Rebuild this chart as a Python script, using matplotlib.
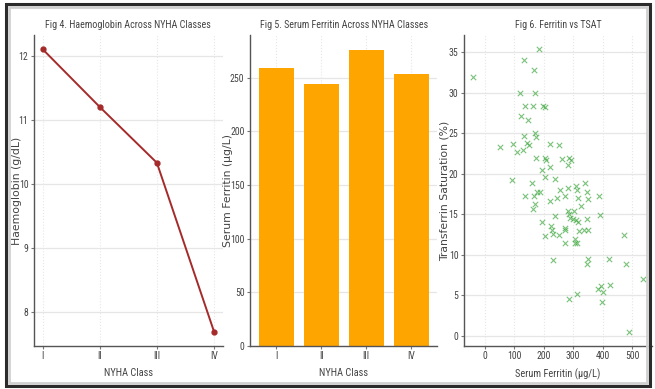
import matplotlib
matplotlib.use("Agg")
import matplotlib.pyplot as plt
from matplotlib.patches import Rectangle
from matplotlib import font_manager

# --- data ---
nyha = ["I", "II", "III", "IV"]
hb_mean = [12.1, 11.2, 10.33, 7.7]
ferritin_mean = [259, 244, 276, 253]

ferritin = [-42, 184, 134, 167, 118, 172, 137, 162, 196, 205, 123, 146, 132, 171, 175,
            50, 97, 109, 128, 142, 149, 223, 252, 175, 204, 208, 261, 287, 294, 284,
            195, 220, 91, 159, 205, 240, 340, 256, 282, 311, 314, 346, 389, 137, 168,
            178, 188, 170, 163, 220, 245, 272, 317, 349, 328, 240, 281, 286, 304, 298,
            310, 347, 391, 193, 203, 224, 229, 231, 252, 272, 274, 272, 306, 314, 307,
            321, 337, 352, 472, 231, 348, 351, 421, 481, 539, 386, 395, 401, 399, 426,
            286, 313, 491, 290, 317]
tsat = [31.9, 35.4, 34.1, 32.8, 30.0, 30.0, 28.4, 28.4, 28.4, 28.3, 27.2, 26.7, 24.7, 25.0, 24.6,
        23.3, 23.7, 22.7, 22.9, 23.8, 23.5, 23.7, 23.5, 22.0, 21.9, 21.7, 21.8, 21.9, 21.7, 21.1,
        20.5, 20.9, 19.2, 18.9, 19.6, 19.4, 18.9, 18.0, 18.3, 18.5, 18.0, 17.7, 17.2, 17.2, 17.2,
        17.7, 17.8, 16.3, 15.7, 16.7, 17.0, 17.2, 17.0, 16.9, 16.0, 14.8, 15.4, 15.0, 15.4, 14.4,
        14.3, 14.4, 14.9, 14.0, 12.3, 13.6, 13.0, 12.6, 12.4, 13.1, 13.3, 11.5, 11.9, 11.4, 11.4,
        12.9, 13.1, 13.0, 12.5, 9.4, 8.9, 9.5, 9.5, 8.9, 7.0, 5.8, 6.1, 5.4, 4.2, 6.3,
        4.5, 5.1, 0.5, 14.6, 14.1]

# narrow regular face for horizontal text (the reference looks squeezed sideways)
fonts = font_manager.fontManager.ttflist
regular = {f.name for f in fonts if f.weight in (400, "normal", "regular") and f.style == "normal"}
prefer = ["Roboto Condensed", "Liberation Sans Narrow", "Archivo Narrow",
          "Barlow Condensed", "Asap Condensed"]
pick = next((n for n in prefer if n in regular), "DejaVu Sans")
NARROW = dict(family=[pick, "DejaVu Sans"], weight="normal")

fig = plt.figure(figsize=(6.55, 3.89), dpi=100)
renderer = fig.canvas.get_renderer()

# title size chosen so "Fig 4..." is ~166 px wide like the reference
probe = fig.text(0, 0, "Fig 4. Haemoglobin Across NYHA Classes", fontsize=10, **NARROW)
TSZ = min(10.5, 10 * 166 / probe.get_window_extent(renderer).width)
probe.remove()
TICK = 7.0


def style(ax, title, xlabel, ylabel, ylab_x):
    for s in ("top", "right"):
        ax.spines[s].set_visible(False)
    for s in ("left", "bottom"):
        ax.spines[s].set_color("#555555")
        ax.spines[s].set_linewidth(1.0)
    ax.set_axisbelow(True)
    ax.grid(axis="y", color="#e6e6e6", lw=0.9)
    ax.grid(axis="x", color="#e6e6e6", lw=0.8, ls=":")
    ax.tick_params(length=2.5, width=0.8, color="#777777", pad=1.5, labelcolor="#444444")
    for lab in ax.get_xticklabels() + ax.get_yticklabels():
        lab.set_fontproperties(font_manager.FontProperties(size=TICK, **NARROW))
    ax.set_title(title, fontsize=TSZ, color="#444444", pad=5, **NARROW)
    ax.set_xlabel(xlabel, fontsize=7.5, color="#444444", labelpad=5, **NARROW)
    ax.set_ylabel(ylabel, fontsize=7.8, color="#444444", family="DejaVu Sans")
    ax.yaxis.set_label_coords(ylab_x, 0.5)


b, h = 0.111, 0.799
ax1 = fig.add_axes([0.0519, b, 0.288, h])
ax2 = fig.add_axes([0.3817, b, 0.286, h])
ax3 = fig.add_axes([0.7084, b, 0.287, h])

ax1.plot(nyha, hb_mean, color="#a52a2a", lw=1.4, marker="o", ms=3.5)
style(ax1, "Fig 4. Haemoglobin Across NYHA Classes", "NYHA Class", "Haemoglobin (g/dL)", -0.062)

ax2.bar(nyha, ferritin_mean, color="#ffa500", width=0.78)
style(ax2, "Fig 5. Serum Ferritin Across NYHA Classes", "NYHA Class",
      "Serum Ferritin (µg/L)", -0.09)

ax3.scatter(ferritin, tsat, marker="x", color="#40a840", alpha=0.7, s=15, lw=0.8)
ax3.set_xticks([0, 100, 200, 300, 400, 500])
style(ax3, "Fig 6. Ferritin vs TSAT", "Serum Ferritin (µg/L)",
      "Transferrin Saturation (%)", -0.075)

# screenshot-like dark frame
fig.patches.append(Rectangle((0.009, 0.008), 0.984, 0.982, transform=fig.transFigure,
                             fill=False, ec="#2b2b2b", lw=2.2))
fig.patches.append(Rectangle((0.014, 0.016), 0.974, 0.966, transform=fig.transFigure,
                             fill=False, ec="#d0d0d0", lw=2.0))

fig.savefig("out.png", dpi=100)
